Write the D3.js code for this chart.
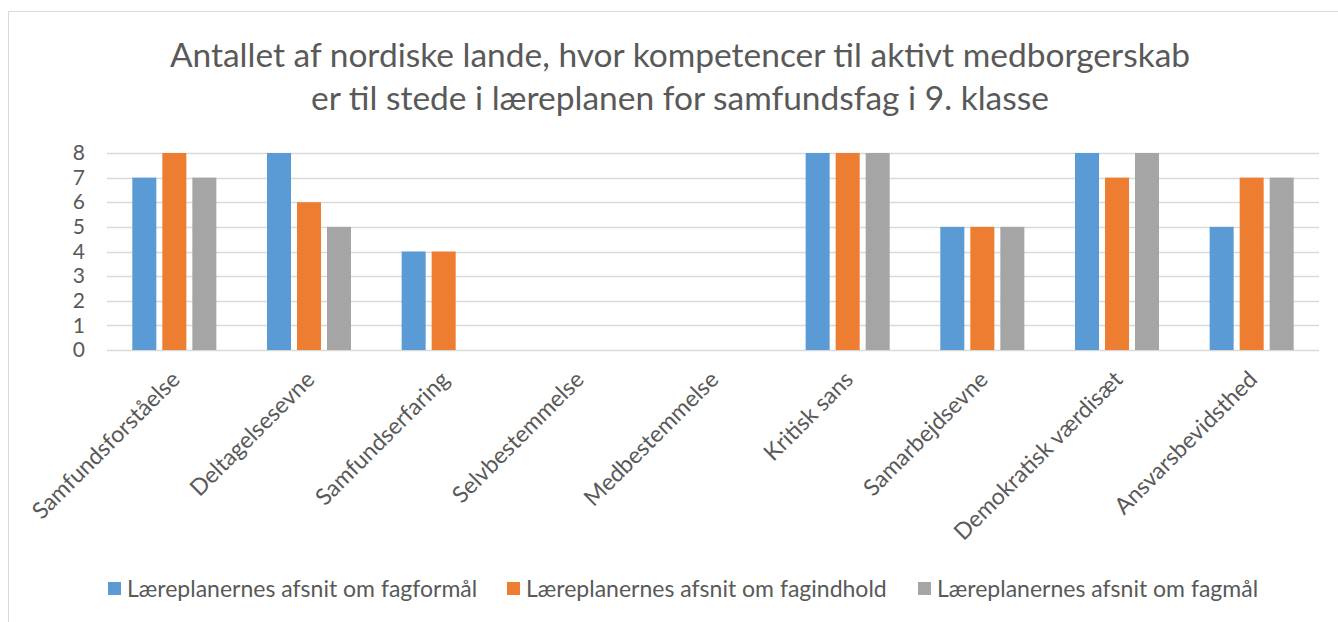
<!DOCTYPE html>
<html>
<head>
<meta charset="utf-8">
<script src="https://cdn.jsdelivr.net/npm/d3@7"></script>
<style>
  body { margin: 0; background: #fff; }
  text { font-family: Lato, "Open Sans", sans-serif; fill: #595959; }
</style>
</head>
<body>
<div id="chart"></div>
<script>
// Data
const categories = ["Samfundsforståelse", "Deltagelsesevne", "Samfundserfaring", "Selvbestemmelse",
	"Medbestemmelse", "Kritisk sans", "Samarbejdsevne", "Demokratisk værdisæt", "Ansvarsbevidsthed"];
const seriesNames = ["Læreplanernes afsnit om fagformål", "Læreplanernes afsnit om fagindhold", "Læreplanernes afsnit om fagmål"];
const fagformaal = [7, 8, 4, 0, 0, 8, 5, 8, 5];
const fagindhold = [8, 6, 4, 0, 0, 8, 5, 7, 7];
const fagmaal = [7, 5, 0, 0, 0, 8, 5, 8, 7];
const yTicks = [0, 1, 2, 3, 4, 5, 6, 7, 8];
const titleLines = ["Antallet af nordiske lande, hvor kompetencer til aktivt medborgerskab",
	"er til stede i læreplanen for samfundsfag i 9. klasse"];

const seriesValues = [fagformaal, fagindhold, fagmaal];
const colors = ["#5B9BD5", "#ED7D31", "#A5A5A5"];

const W = 1338, H = 622;
const plot = {left: 107, right: 1319, top: 153, bottom: 350};

const svg = d3.select("#chart").append("svg")
	.attr("width", W)
	.attr("height", H);

// chart border (only top and left visible in the crop)
svg.append("rect")
	.attr("x", 8.5).attr("y", 11.5)
	.attr("width", 1500).attr("height", 800)
	.attr("fill", "none")
	.attr("stroke", "#D9D9D9");

// Title
svg.append("g").selectAll("text").data(titleLines).enter().append("text")
	.attr("x", 680)
	.attr("y", (d, i) => 67 + i * 43)
	.attr("text-anchor", "middle")
	.style("font-size", "33.5px")
	.text(d => d);

// Scales
const x0 = d3.scaleBand().domain(categories).range([plot.left, plot.right])
	.paddingInner(0.376).paddingOuter(0.188);
const x1 = d3.scaleBand().domain(d3.range(seriesNames.length)).range([0, x0.bandwidth()])
	.paddingInner(0.2);
const y = d3.scaleLinear().domain([0, 8]).range([plot.bottom, plot.top]);

// Grid
svg.append("g").selectAll("line").data(yTicks).enter().append("line")
	.attr("x1", plot.left).attr("x2", plot.right)
	.attr("y1", d => Math.round(y(d)) + 0.5).attr("y2", d => Math.round(y(d)) + 0.5)
	.attr("stroke", "#D9D9D9")
	.attr("stroke-width", 1.5);

// Y axis labels
const yaxis = d3.axisLeft(y).tickValues(yTicks).tickSize(0).tickPadding(0);
svg.append("g")
	.attr("transform", "translate(" + (plot.left - 22) + ",0)")
	.call(yaxis)
	.call(g => g.select(".domain").remove())
	.call(g => g.selectAll("text").style("font-size", "21px").attr("fill", "#595959").attr("font-family", null));

// Bars
categories.forEach((c, ci) => {
	svg.append("g")
		.attr("transform", "translate(" + x0(c) + ",0)")
		.selectAll("rect").data(seriesValues.map(s => s[ci])).enter().append("rect")
		.attr("x", (d, i) => x1(i))
		.attr("y", d => y(d))
		.attr("width", x1.bandwidth())
		.attr("height", d => y(0) - y(d))
		.attr("fill", (d, i) => colors[i]);
});

// X labels, rotated
svg.append("g").selectAll("text").data(categories).enter().append("text")
	.attr("transform", d => "translate(" + (x0(d) + x0.bandwidth() / 2 + 7) + ",381) rotate(-45)")
	.attr("text-anchor", "end")
	.style("font-size", "23px")
	.text(d => d);

// Legend
const legendX = [108, 507, 918];
const legend = svg.append("g").selectAll("g").data(seriesNames).enter().append("g")
	.attr("transform", (d, i) => "translate(" + legendX[i] + ",582)");
legend.append("rect")
	.attr("width", 13).attr("height", 13)
	.attr("fill", (d, i) => colors[i]);
legend.append("text")
	.attr("x", 19).attr("y", 15)
	.style("font-size", "23px")
	.text(d => d);
</script>
</body>
</html>
